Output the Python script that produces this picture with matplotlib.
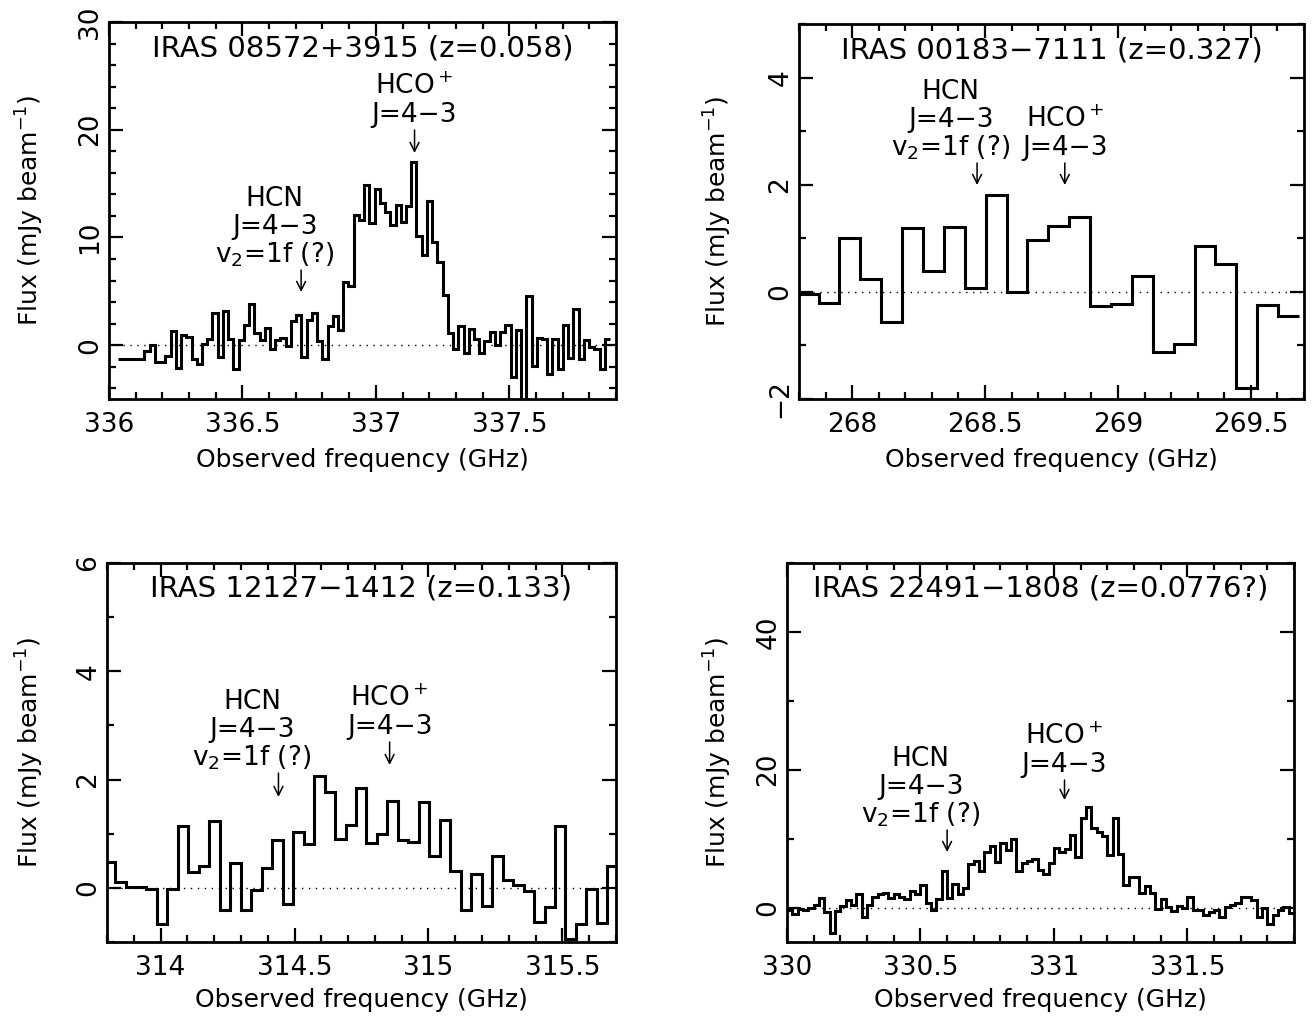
import matplotlib
matplotlib.use('Agg')
import matplotlib.pyplot as plt
import matplotlib.transforms as mtransforms
from matplotlib.ticker import MultipleLocator, FuncFormatter
import numpy as np

# ---- data ----
# IRAS 08572+3915
p1_name = 'IRAS 08572+3915 (z=0.058)'
p1_start, p1_chan = 336.035, 0.0196
p1_flux = [-1.27, -1.27, -1.27, -1.27, -1.27, -0.56, 0.0, -1.55, -1.55, -1.0,
           1.3, -2.1, 0.9, 0.8, -1.27, -1.73, 0.15, 0.59, 3.0, -1.08,
           3.16, 0.53, -2.26, 0.5, 1.86, 3.78, 1.15, 0.46, 1.61, -0.4,
           0.46, 0.68, -0.1, 2.23, 2.76, -1.08, 2.38, 3.0, 0.4, -1.27,
           1.76, 2.7, 1.4, 5.9, 5.5, 12.1, 11.6, 14.9, 11.3, 14.5,
           13.2, 12.4, 11.2, 13.0, 11.4, 12.9, 17.0, 10.1, 8.4, 13.4,
           9.6, 7.7, 4.7, 1.1, -0.4, 1.8, -0.7, 1.5, 0.6, -0.7,
           0.4, 1.2, 0.0, 1.2, 1.9, -3.0, 1.4, -6.5, 4.6, -1.9,
           0.7, 0.6, -2.7, 0.6, -2.2, 1.9, -1.2, 3.4, -1.3, 0.5,
           -0.2, -0.4, -2.2, 0.6]
p1_hco, p1_hcn = 337.145, 336.72

# IRAS 00183-7111
p2_name = 'IRAS 00183\u22127111 (z=0.327)'
p2_start, p2_chan = 267.795, 0.0786
p2_flux = [-0.04, -0.2, 1.0, 0.24, -0.57, 1.19, 0.39, 1.21, 0.07, 1.80,
           0.0, 0.975, 1.22, 1.39, -0.27, -0.22, 0.30, -1.12, -0.98, 0.86,
           0.52, -1.80, -0.25, -0.45]
p2_hco, p2_hcn = 268.80, 268.47

# IRAS 12127-1412
p3_name = 'IRAS 12127\u22121412 (z=0.133)'
p3_start, p3_chan = 313.791, 0.0391
p3_flux = [0.47, 0.11, 0.01, 0.01, -0.03, -0.66, -0.03, 1.15, 0.30, 0.40,
           1.24, -0.41, 0.45, -0.40, -0.04, 0.36, 0.89, -0.30, 1.03, 0.81,
           2.06, 1.77, 0.90, 1.17, 1.85, 0.82, 1.0, 1.61, 0.89, 0.85,
           1.58, 0.58, 1.26, 0.32, -0.40, 0.26, -0.33, 0.58, 0.14, 0.06,
           -0.06, -0.63, -0.36, 1.15, -0.94, -0.66, -0.03, -0.65, 0.40]
p3_hco, p3_hcn = 314.855, 314.44

# IRAS 22491-1808
p4_name = 'IRAS 22491\u22121808 (z=0.0776?)'
p4_start, p4_chan = 330.0, 0.02
p4_flux = [-0.3, -1.0, -0.2, -0.3, 0.0, 0.3, 1.4, -0.6, -3.7, -0.5,
           0.2, 1.1, 0.3, 1.9, -1.3, 0.4, 1.6, 1.9, 2.1, 1.4,
           1.9, 1.6, 1.2, 2.4, 1.9, 3.2, 0.7, -0.3, 1.2, 5.3,
           1.4, 3.4, 1.9, 2.9, 6.3, 6.8, 5.3, 8.0, 9.0, 6.6,
           9.3, 8.3, 10.0, 5.3, 6.5, 6.8, 7.1, 5.5, 4.8, 6.5,
           8.6, 8.0, 8.5, 10.5, 7.3, 13.0, 14.6, 11.5, 11.0, 10.4,
           7.6, 13.0, 7.7, 3.2, 4.4, 4.4, 2.1, 3.1, 2.1, -0.2,
           1.2, 0.1, -0.5, 0.25, -0.1, 1.5, -0.3, -0.3, -1.1, -0.7,
           -0.4, -1.3, 0.15, 0.4, 0.7, 1.5, 1.5, 1.1, -1.3, -0.1,
           -2.4, -1.1, -0.4, 0.05, -0.8]
p4_hco, p4_hcn = 331.04, 330.60

W, H = 1315, 1022
FS = 19        # tick labels
FS_TXT = 19    # line labels
FS_TITLE = 21
MINUS = '\u2212'

fig = plt.figure(figsize=(W / 100, H / 100), dpi=100)


def make_ax(left, right, top, bottom):
    return fig.add_axes([left / W, 1 - bottom / H, (right - left) / W, (bottom - top) / H])


def style(ax, xlim, ylim, ymaj, ymin):
    ax.set_xlim(*xlim)
    ax.set_ylim(*ylim)
    ax.xaxis.set_major_locator(MultipleLocator(0.5))
    ax.xaxis.set_minor_locator(MultipleLocator(0.1))
    ax.yaxis.set_major_locator(MultipleLocator(ymaj))
    ax.yaxis.set_minor_locator(MultipleLocator(ymin))
    fmt = FuncFormatter(lambda v, p: f'{v:g}'.replace('-', MINUS))
    ax.xaxis.set_major_formatter(fmt)
    ax.yaxis.set_major_formatter(fmt)
    ax.tick_params(which='both', direction='in', top=True, right=True,
                   width=1.6, labelsize=FS)
    ax.tick_params(axis='x', which='major', pad=9)
    ax.tick_params(axis='y', which='major', pad=4)
    ax.tick_params(which='major', length=10)
    ax.tick_params(which='minor', length=5)
    for lab in ax.get_yticklabels():
        lab.set_rotation(90)
        lab.set_va('center')
    for s in ax.spines.values():
        s.set_linewidth(2)
    ax.set_xlabel('Observed frequency (GHz)', fontsize=18)
    ax.set_ylabel('Flux (mJy beam$^{-1}$)', fontsize=18)


def spectrum(ax, start, chan, flux):
    edges = start + chan * np.arange(len(flux) + 1)
    ax.stairs(flux, edges, baseline=None, color='k', lw=2.2)
    ax.axhline(0, color='k', lw=1, ls=(0, (1, 4)))


def line_label(ax, freq, lines, arrow_top, arrow_bot, top, bottom, dx=0):
    h = bottom - top
    tr = mtransforms.blended_transform_factory(ax.transData, ax.transAxes)
    ax.annotate('', xy=(freq, (bottom - arrow_bot) / h), xycoords=tr,
                xytext=(freq, (bottom - arrow_top) / h), textcoords=tr,
                arrowprops=dict(arrowstyle='->', lw=1.1, color='k',
                                shrinkA=0, shrinkB=0, mutation_scale=16))
    y = arrow_top - 15
    for s in reversed(lines):
        ax.annotate(s, xy=(freq, (bottom - y) / h), xycoords=tr,
                    xytext=(dx, 0), textcoords='offset points',
                    ha='center', va='center', fontsize=FS_TXT)
        y -= 28


panels = [
    # name, start, chan, flux, hco, hcn, rect (l, r, t, b), xlim, ylim, ymaj, ymin, arrows
    (p1_name, p1_start, p1_chan, p1_flux, p1_hco, p1_hcn, (109, 616, 22, 399),
     (336.0, 337.9), (-5, 30), 10, 2, (130, 153), (270, 292)),
    (p2_name, p2_start, p2_chan, p2_flux, p2_hco, p2_hcn, (799, 1304, 24, 399),
     (267.8, 269.7), (-2, 5), 2, 1, (163, 185), (163, 185)),
    (p3_name, p3_start, p3_chan, p3_flux, p3_hco, p3_hcn, (107, 616, 563, 942),
     (313.8, 315.7), (-1, 6), 2, 1, (742, 765), (773, 797)),
    (p4_name, p4_start, p4_chan, p4_flux, p4_hco, p4_hcn, (787, 1294, 563, 942),
     (330.0, 331.9), (-5, 50), 20, 10, (780, 800), (830, 852)),
]

for (name, start, chan, flux, hco, hcn, rect, xlim, ylim, ymaj, ymin,
     a_hco, a_hcn) in panels:
    l, r, t, b = rect
    ax = make_ax(l, r, t, b)
    spectrum(ax, start, chan, flux)
    style(ax, xlim, ylim, ymaj, ymin)
    ax.xaxis.set_label_coords(0.5, -(460 - 399) / (b - t) if t < 100 else -(1000 - 942) / (b - t))
    ax.xaxis.label.set_va('center')
    ax.yaxis.set_label_coords(-(l - (30 if l < 400 else 718)) / (r - l), 0.5)
    ax.yaxis.label.set_va('center')
    ax.text(0.5, (b - (t + 26)) / (b - t), name, transform=ax.transAxes,
            ha='center', va='center', fontsize=FS_TITLE)
    line_label(ax, hco, ['HCO$^+$', 'J=4' + MINUS + '3'], a_hco[0], a_hco[1], t, b)
    line_label(ax, hcn, ['HCN', 'J=4' + MINUS + '3', 'v$_2$=1f (?)'],
               a_hcn[0], a_hcn[1], t, b, dx=-19)

fig.savefig('out.png', dpi=100)
